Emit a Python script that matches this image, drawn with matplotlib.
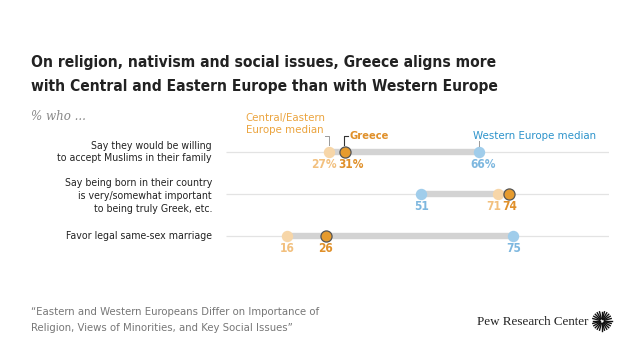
import matplotlib
matplotlib.use("Agg")
import matplotlib.pyplot as plt
from matplotlib import font_manager as fm
import numpy as np

# Data
categories = [
    "Say they would be willing\nto accept Muslims in their family",
    "Say being born in their country\nis very/somewhat important\nto being truly Greek, etc.",
    "Favor legal same-sex marriage",
]
cee_median = [27, 71, 16]
greece = [31, 74, 26]
west_median = [66, 51, 75]
cee_labels = ["27%", "71", "16"]
greece_labels = ["31%", "74", "26"]
west_labels = ["66%", "51", "75"]

# label nudges (pixels) to avoid collisions, as in the original
cee_dx = [-5, -4, 0]
greece_dx = [6, 0, 0]
west_dx = [4, 0, 0]

# pick a condensed font if available
names = {f.name for f in fm.fontManager.ttflist}
if "Liberation Sans Narrow" in names:
    COND_PROPS = dict(fontfamily="Liberation Sans Narrow")
    SCALE = 1.05
elif any("DejaVuSansCondensed" in f.fname for f in fm.fontManager.ttflist):
    COND_PROPS = dict(fontfamily="DejaVu Sans", fontstretch="condensed")
    SCALE = 1.0
else:
    COND_PROPS = dict(fontfamily="Roboto")
    SCALE = 0.97

def cp(size, **kw):
    d = dict(COND_PROPS)
    d["fontsize"] = size * SCALE
    d.update(kw)
    return d

C_CEE = "#F7D6A8"
C_CEE_TXT = "#F2C07E"
C_GR = "#E69B2E"
C_GR_TXT = "#E0902A"
C_W = "#A0CDEB"
C_W_TXT = "#7DB7DF"
C_ANN_CEE = "#EBA43F"
C_ANN_W = "#2C93CB"

W, H = 640, 360
fig = plt.figure(figsize=(6.4, 3.6), dpi=100)

def fx(px):
    return px / W

def fy(py):
    return 1 - py / H

left, right = 226, 609
top_px, bot_px = 140, 260
ax = fig.add_axes([fx(left), fy(bot_px), (right - left) / W, (bot_px - top_px) / H])
ax.set_xlim(0, 100)
row_px = 42.0
ax.set_ylim((bot_px - 152) / row_px, (top_px - 152) / row_px)
ax.axis("off")

PT = 72 / 100.0  # points per pixel
label_dy = [0, 2, 0]
for i in range(len(categories)):
    ax.plot([0, 100.8], [i, i], color="#E3E3E3", lw=0.9, zorder=1, solid_capstyle="butt")
    vals = [cee_median[i], greece[i], west_median[i]]
    ax.plot([min(vals), max(vals)], [i, i], color="#D3D3D3", lw=4.6, zorder=2,
            solid_capstyle="butt")
    ax.plot(cee_median[i], i, "o", ms=7.2, color=C_CEE, mec=C_CEE, zorder=3)
    ax.plot(west_median[i], i, "o", ms=7.2, color=C_W, mec=C_W, zorder=3)
    ax.plot(greece[i], i, "o", ms=8.0, color=C_GR, mec="#555555", mew=0.9, zorder=4)
    for v, lab, c, dx in [(cee_median[i], cee_labels[i], C_CEE_TXT, cee_dx[i]),
                          (greece[i], greece_labels[i], C_GR_TXT, greece_dx[i]),
                          (west_median[i], west_labels[i], C_W_TXT, west_dx[i])]:
        ax.annotate(lab, (v, i), xytext=(dx * PT, -9.2), textcoords="offset points",
                    ha="center", va="center", color=c,
                    **cp(8.6, fontweight="bold"))
    fig.text(fx(212), fy(152 + 42 * i + label_dy[i]), categories[i],
             ha="right", va="center", color="#222222", linespacing=1.32,
             **cp(7.6))

# Title
fig.text(fx(31), fy(62), "On religion, nativism and social issues, Greece aligns more",
         color="#222222", va="center", **cp(11.2, fontweight="bold"))
fig.text(fx(31), fy(86), "with Central and Eastern Europe than with Western Europe",
         color="#222222", va="center", **cp(11.2, fontweight="bold"))
fig.text(fx(31), fy(116), "% who ...", fontsize=8.6, style="italic",
         fontfamily="DejaVu Serif", color="#888888", va="center")

# Legend annotations
fig.text(fx(285), fy(124), "Central/Eastern\nEurope median", ha="center", va="center",
         color=C_ANN_CEE, linespacing=1.15, **cp(8.2))
fig.text(fx(349), fy(136), "Greece", ha="left", va="center",
         color=C_GR_TXT, **cp(8.0, fontweight="bold"))
fig.text(fx(535), fy(136), "Western Europe median", ha="center", va="center",
         color=C_ANN_W, **cp(8.2))
fig.add_artist(plt.Line2D([fx(325), fx(329), fx(329)], [fy(136), fy(136), fy(145)],
                          color="#999999", lw=0.7))
fig.add_artist(plt.Line2D([fx(348), fx(344), fx(344)], [fy(136), fy(136), fy(145)],
                          color="#333333", lw=0.8))
fig.add_artist(plt.Line2D([fx(479), fx(479)], [fy(141), fy(146)],
                          color="#999999", lw=0.7))

# Source
fig.text(fx(31), fy(312), "\u201cEastern and Western Europeans Differ on Importance of",
         color="#777777", va="center", **cp(8.1))
fig.text(fx(31), fy(328), "Religion, Views of Minorities, and Key Social Issues\u201d",
         color="#777777", va="center", **cp(8.1))

# Logo
fig.text(fx(588), fy(322), "Pew Research Center", ha="right", va="center",
         fontsize=9.4, fontfamily="Liberation Serif", color="#222222")
cx, cy = 602, 321
for k in range(24):
    a = 2 * np.pi * k / 24
    r0, r1 = 2.5, 9.5
    fig.add_artist(plt.Line2D([fx(cx + r0 * np.cos(a)), fx(cx + r1 * np.cos(a))],
                              [fy(cy + r0 * np.sin(a)), fy(cy + r1 * np.sin(a))],
                              color="#111111", lw=1.0))

fig.savefig("out.png", dpi=100, facecolor="white")
